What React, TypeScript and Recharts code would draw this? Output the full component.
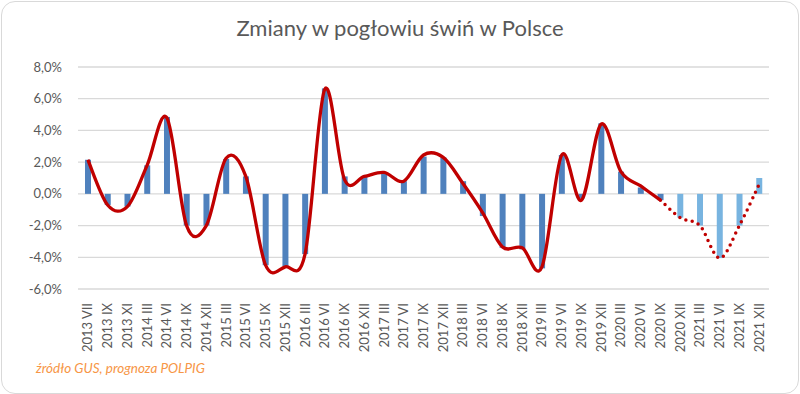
import React from "react";
import { ComposedChart, Bar, Line, XAxis, YAxis, CartesianGrid, Cell } from "recharts";

const categories = [
  "2013 VII", "2013 IX", "2013 XI", "2014 III", "2014 VI", "2014 IX", "2014 XII",
  "2015 III", "2015 VI", "2015 IX", "2015 XII", "2016 III", "2016 VI", "2016 IX",
  "2016 XII", "2017 III", "2017 VI", "2017 IX", "2017 XII", "2018 III", "2018 VI",
  "2018 IX", "2018 XII", "2019 III", "2019 VI", "2019 IX", "2019 XII", "2020 III",
  "2020 VI", "2020 IX", "2020 XII", "2021 III", "2021 VI", "2021 IX", "2021 XII",
];

// zmiana pogłowia (%), słupki
const barValues = [
  2.15, -0.7, -0.8, 1.8, 4.85, -2.0, -2.0,
  2.2, 1.1, -4.5, -4.55, -3.8, 6.65, 1.1,
  1.1, 1.35, 0.8, 2.35, 2.3, 0.8, -1.4,
  -3.4, -3.5, -4.7, 2.45, -0.3, 4.45, 1.4,
  0.4, -0.4, -1.5, -2.0, -4.05, -2.0, 1.0,
];

// linia - dane GUS
const lineActual = [
  2.15, -0.7, -0.8, 1.8, 4.8, -2.0, -2.0,
  2.25, 1.1, -4.5, -4.6, -3.8, 6.6, 0.9,
  1.1, 1.35, 0.8, 2.45, 2.3, 0.65, -1.2,
  -3.35, -3.4, -4.6, 2.45, -0.4, 4.4, 1.4,
  0.5, -0.4, null, null, null, null, null,
];

// linia - prognoza POLPIG
const lineForecast = [
  null, null, null, null, null, null, null,
  null, null, null, null, null, null, null,
  null, null, null, null, null, null, null,
  null, null, null, null, null, null, null,
  null, -0.4, -1.5, -2.0, -4.05, -2.0, 0.6,
];

const forecastFrom = 30;
const yTicks = [-6, -4, -2, 0, 2, 4, 6, 8];

const data = categories.map((name, i) => ({
  name,
  bar: barValues[i],
  actual: lineActual[i],
  forecast: lineForecast[i],
}));

// wygładzanie podobne do Excela (Catmull-Rom)
const smoothCurve = (context: any) => {
  let pts: number[][] = [];
  return {
    areaStart() {},
    areaEnd() {},
    lineStart() {
      pts = [];
    },
    point(x: number, y: number) {
      pts.push([+x, +y]);
    },
    lineEnd() {
      if (!pts.length) return;
      context.moveTo(pts[0][0], pts[0][1]);
      const t = 1 / 6;
      for (let i = 0; i < pts.length - 1; i++) {
        const p0 = pts[i - 1] || pts[i];
        const p1 = pts[i];
        const p2 = pts[i + 1];
        const p3 = pts[i + 2] || p2;
        context.bezierCurveTo(
          p1[0] + (p2[0] - p0[0]) * t,
          p1[1] + (p2[1] - p0[1]) * t,
          p2[0] - (p3[0] - p1[0]) * t,
          p2[1] - (p3[1] - p1[1]) * t,
          p2[0],
          p2[1]
        );
      }
    },
  };
};

const font = "Lato, 'Open Sans', sans-serif";

const XTick = ({ x, y, payload }: any) => (
  <text
    transform={`translate(${x + 4.5},${y}) rotate(-90)`}
    textAnchor="end"
    fill="#595959"
    fontSize={13}
    fontFamily={font}
  >
    {payload.value}
  </text>
);

export default function App() {
  return (
    <div
      style={{
        position: "fixed",
        left: 0,
        top: 0,
        width: 800,
        height: 394,
        background: "#fff",
        fontFamily: font,
      }}
    >
      <div
        style={{
          position: "absolute",
          left: 1,
          top: 1,
          width: 796,
          height: 391,
          border: "1px solid #d9d9d9",
          borderRadius: 14,
        }}
      />
      <div
        style={{
          position: "absolute",
          left: 0,
          top: 14,
          width: 800,
          textAlign: "center",
          fontSize: 22,
          color: "#595959",
        }}
      >
        Zmiany w pogłowiu świń w Polsce
      </div>
      <div
        style={{
          position: "absolute",
          left: 36,
          top: 360,
          fontSize: 13.5,
          fontStyle: "italic",
          color: "#F79646",
        }}
      >
        źródło GUS, prognoza POLPIG
      </div>
      <div style={{ position: "absolute", left: 0, top: 0 }}>
        <ComposedChart
          width={800}
          height={394}
          data={data}
          margin={{ top: 67, right: 31, left: 0, bottom: 0 }}
          barCategoryGap={0}
        >
          <CartesianGrid vertical={false} stroke="#d9d9d9" strokeWidth={1.3} />
          <XAxis
            dataKey="name"
            interval={0}
            height={105}
            axisLine={false}
            tickLine={false}
            tick={<XTick />}
            tickMargin={8}
          />
          <YAxis
            width={78}
            domain={[-6, 8]}
            ticks={yTicks}
            axisLine={false}
            tickLine={false}
            tickMargin={10}
            tick={{ fill: "#595959", fontSize: 13, fontFamily: font }}
            tickFormatter={(v: number) => `${v.toFixed(1).replace(".", ",")}%`}
          />
          <Bar dataKey="bar" barSize={6} isAnimationActive={false}>
            {data.map((d, i) => (
              <Cell key={d.name} fill={i >= forecastFrom ? "#78B4E0" : "#4F81BD"} />
            ))}
          </Bar>
          <Line
            dataKey="actual"
            type={smoothCurve as any}
            stroke="#C00000"
            strokeWidth={3.3}
            dot={false}
            activeDot={false}
            isAnimationActive={false}
          />
          <Line
            dataKey="forecast"
            type={smoothCurve as any}
            stroke="#C00000"
            strokeWidth={3.5}
            strokeDasharray="0 6.5"
            strokeLinecap="round"
            dot={false}
            activeDot={false}
            isAnimationActive={false}
          />
        </ComposedChart>
      </div>
    </div>
  );
}
